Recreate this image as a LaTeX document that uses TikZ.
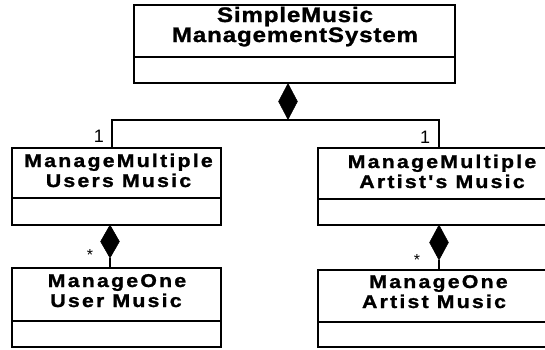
\documentclass[tikz,border=0pt]{standalone}
\usepackage{fontspec}
\setmainfont{Liberation Sans}
\newfontfamily\topfont{Liberation Sans}[FakeStretch=1.15, LetterSpace=4, FakeBold=1.2]
\newfontfamily\boxfont{Liberation Sans}[FakeStretch=1.15, LetterSpace=12, FakeBold=1.2]
\usetikzlibrary{shapes.geometric}
\begin{document}
\begin{tikzpicture}[x=1pt,y=-1pt,
  umlbox/.style={draw, line width=1.8pt, inner sep=0pt},
  divider/.style={line width=1.8pt},
  conn/.style={line width=1.8pt},
  comp/.style={diamond, fill=black, draw=black, line width=0.5pt, inner sep=0pt},
  toptext/.style={font=\topfont\bfseries\fontsize{21}{24}\selectfont, inner sep=0pt, anchor=base},
  boxtext/.style={font=\boxfont\bfseries\fontsize{18.5}{21}\selectfont, inner sep=0pt, anchor=base},
  multone/.style={font=\fontsize{18}{20}\selectfont, inner sep=0pt, anchor=base},
  multstar/.style={font=\fontsize{16}{18}\selectfont, inner sep=0pt, anchor=base}]
\fill[white] (0,0) rectangle (545,349);
\clip (0,0) rectangle (545,349);

% boxes
\node[umlbox, minimum width=321pt, minimum height=78pt] (T) at (294.5,44) {};
\node[umlbox, minimum width=209pt, minimum height=77pt] (L1) at (116.5,186.5) {};
\node[umlbox, minimum width=246pt, minimum height=77pt] (R1) at (441,186.5) {};
\node[umlbox, minimum width=209pt, minimum height=79pt] (L2) at (116.5,307.5) {};
\node[umlbox, minimum width=246pt, minimum height=77pt] (R2) at (441,308.5) {};

% dividers
\draw[divider] (T.west |- 0,57) -- (T.east |- 0,57);
\draw[divider] (L1.west |- 0,198) -- (L1.east |- 0,198);
\draw[divider] (R1.west |- 0,199) -- (R1.east |- 0,199);
\draw[divider] (L2.west |- 0,321) -- (L2.east |- 0,321);
\draw[divider] (R2.west |- 0,322) -- (R2.east |- 0,322);

% texts
\node[toptext] (t1) at (295,22) {SimpleMusic};
\node[toptext] (t2) at (295,42) {ManagementSystem};
\node[boxtext] (l1a) at (118.5,167) {ManageMultiple};
\node[boxtext] (l1b) at (118.5,187) {Users Music};
\node[boxtext] (r1a) at (442,168) {ManageMultiple};
\node[boxtext] (r1b) at (442,188) {Artist{\char"0027}s Music};
\node[boxtext] (l2a) at (117,287) {ManageOne};
\node[boxtext] (l2b) at (116,307) {User Music};
\node[boxtext] (r2a) at (438.5,288) {ManageOne};
\node[boxtext] (r2b) at (434,308) {Artist Music};

% composition diamonds
\node[comp, minimum width=19pt, minimum height=36pt] (d0) at (288,101.5) {};
\node[comp, minimum width=19pt, minimum height=33pt] (d1) at (110,241.5) {};
\node[comp, minimum width=19pt, minimum height=35pt] (d2) at (439,242.5) {};

\coordinate (jl) at (112,120);
\coordinate (jr) at (439,120);

% connectors
\draw[conn] (d0.south) -| (jl |- L1.north);
\draw[conn] (d0.south) -| (jr |- R1.north);
\draw[conn] (d1.south) -- (d1.south |- L2.north);
\draw[conn] (d2.south) -- (d2.south |- R2.north);

% multiplicities
\node[multone] (m1) at (99,142) {1};
\node[multone] (m2) at (425,143) {1};
\node[multstar] (m3) at (90,260) {*};
\node[multstar] (m4) at (417,265.5) {*};
\end{tikzpicture}
\end{document}
